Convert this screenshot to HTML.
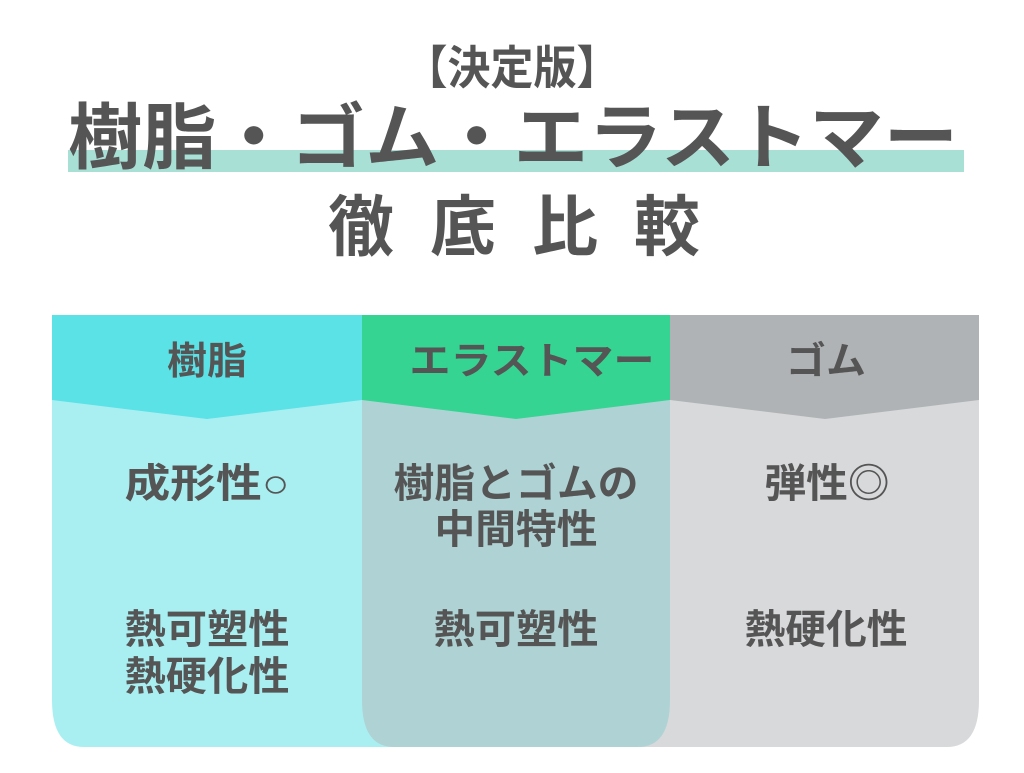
<!DOCTYPE html>
<html><head><meta charset="utf-8"><style>
body{margin:0;width:1024px;height:768px;background:#fff;overflow:hidden}
svg text{font-family:"Liberation Sans","Noto Sans CJK JP",sans-serif;font-weight:bold;fill:#555;text-anchor:middle}
</style></head><body>
<svg width="1024" height="768" viewBox="0 0 1024 768">
<text x="512" y="84" font-size="46" textLength="215" lengthAdjust="spacingAndGlyphs">【決定版】</text>
<rect x="68" y="150" width="896" height="22" fill="#a9e0d5"/>
<text x="513" y="163" font-size="72" textLength="890" lengthAdjust="spacingAndGlyphs">樹脂・ゴム・エラストマー</text>
<text x="514" y="250" font-size="66" textLength="372" lengthAdjust="spacing">徹底比較</text>
<!-- bodies -->
<path d="M52 380 H400 V747 H84 Q52 747 52 700 Z" fill="#a9eff2"/>
<path d="M640 380 H979 V700 Q979 747 947 747 H640 Z" fill="#d8d9db"/>
<path d="M362 380 H670 V700 Q670 747 638 747 H394 Q362 747 362 700 Z" fill="#afd3d4"/>
<!-- headers -->
<path d="M52 315 H362 V400 L207 419 L52 400 Z" fill="#5ae2e6"/>
<path d="M362 315 H670 V400 L516 419 L362 400 Z" fill="#35d492"/>
<path d="M670 315 H979 V400 L825 419 L670 400 Z" fill="#b0b3b5"/>
<g font-size="38">
<text x="207" y="374" textLength="80" lengthAdjust="spacingAndGlyphs">樹脂</text>
<text x="532" y="374" textLength="245" lengthAdjust="spacingAndGlyphs">エラストマー</text>
<text x="826" y="374" textLength="80" lengthAdjust="spacingAndGlyphs">ゴム</text>
</g>
<g font-size="40">
<text x="207" y="497" textLength="165" lengthAdjust="spacingAndGlyphs">成形性○</text>
<text x="516" y="497" textLength="245" lengthAdjust="spacingAndGlyphs">樹脂とゴムの</text>
<text x="516" y="543" textLength="163" lengthAdjust="spacingAndGlyphs">中間特性</text>
<text x="827" y="497" textLength="125" lengthAdjust="spacingAndGlyphs">弾性◎</text>
<text x="207" y="643" textLength="165" lengthAdjust="spacingAndGlyphs">熱可塑性</text>
<text x="207" y="690" textLength="165" lengthAdjust="spacingAndGlyphs">熱硬化性</text>
<text x="516" y="643" textLength="165" lengthAdjust="spacingAndGlyphs">熱可塑性</text>
<text x="826" y="643" textLength="163" lengthAdjust="spacingAndGlyphs">熱硬化性</text>
</g>
</svg>
</body></html>
